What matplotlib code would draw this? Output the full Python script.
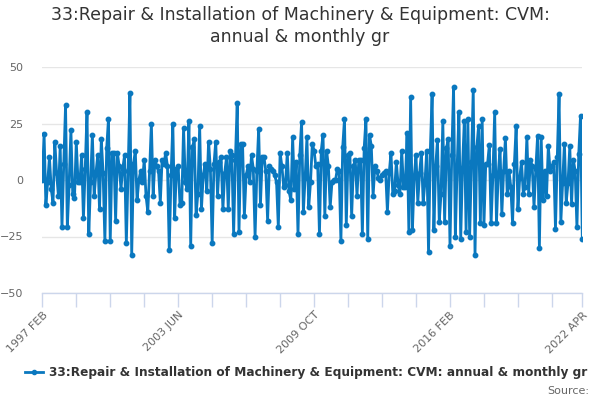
import pandas as pd
import matplotlib
matplotlib.use('Agg')
import matplotlib.pyplot as plt
from matplotlib.lines import Line2D

# annual & monthly growth (%), one list per stretch of years
growth_1997_2000 = [0, 20.4, -11, -1, 10, -4, -10, 17, 3, -7, 15, -21, 7, 33, -21, -2, 22, -6, -8, 17,
                    -1, -1, 11, -17, 5, 30, -24, -1, 20, -7, 3, 11, -13, 18, 3, -27, 14, 27, -27, 12, 12]
growth_2000_2004 = [-18, 12, 6, -4, 5, 11, -28, 4, 38.5, -33, 7, 13, -9, 0, 4, -1, 9, -7, -14, 4,
                    25, -7, 9, 6, 4, -10, 9, 7, 12, 6, -31, 2, 25, -17, 5, 6, -11, -10, 23, -1, -4, 26]
growth_2004_2007 = [-29, 14.5, 18, -15.6, -6, 24, -13, 2, 7, -5, 17, 5, -28, 7, 17, -7, 8, 10, -13, 3,
                    10, -13, 13, 11, -24, 9, 34, -23, 16, 16, -16, 2, 6, -1, 11, 5, -25, 4, 22.5, -11, 10, 10]
growth_2007_2011 = [4, -18, 6, 5, 4, 2, -1, -21, 12, 6, -3, -2, 12, -5, -9, 19, -4, 8, -24, 11,
                    25.5, -14, 1, 19, -12, -1, 16, 13, 6, 7, -24, 13, 20, -16, 13, 6, -12, -1, 0, 0, 5, 4]
growth_2011_2014 = [-27, 14.5, 27, -20, 11, 12, -16, 6, 9, -7, 9, 9, -24, 14, 27, -26, 20, 15, -7, 6,
                    4, 1, 0, 2, 3, 4, -14, 3, 12, -6, -5, 8, -2, -6, 13, -3, -3, 21, -23, 36.6, -22, 1.5, 11]
growth_2014_2018 = [-10, 3, 12, -10, -1, 13, -32, 13, 38, -22, 6, 17.5, -18.5, -6, 26, -18.5, 14, 18, -29, 11,
                    41, -25, 5.5, 30, -26, 5.5, 26, -23, 27, -25, 8, 40, -33, 14.5, 24, -19, 27, -20, 7, 7, 15.5]
growth_2018_2021 = [-19, 2, 30, -19, 3, 13.6, -15, 4, 18.5, -6, 4, -3, -19, 7, 23.7, -13, 1, 8, -6, -3,
                    19, -6, 9, 6, -12, 5, 19.5, -30, 19, -9, 4, -7, 15, 4, 6, 8, -21.5, 10, 38, -18.5, -1.5, 16]
growth_2021_2022 = [-10, -1.5, 15, -10.7, 9, 4, -21, 11.4, 28.4, -26]

values = (growth_1997_2000 + growth_2000_2004 + growth_2004_2007 + growth_2007_2011
          + growth_2011_2014 + growth_2014_2018 + growth_2018_2021 + growth_2021_2022)

months = pd.date_range('1997-02-01', periods=len(values), freq='MS')
month_labels = [d.strftime('%Y %b').upper() for d in months]

series_name = '33:Repair & Installation of Machinery & Equipment: CVM: annual & monthly gr'
title = '33:Repair & Installation of Machinery & Equipment: CVM:\nannual & monthly gr'

line_color = '#0a78bf'
axis_color = '#ccd6eb'
grid_color = '#e6e6e6'
label_color = '#666666'

fig = plt.figure(figsize=(6, 4), dpi=100)
ax = fig.add_axes([0.0705, 0.2675, 0.9, 0.565])

x = list(range(len(values)))
ax.plot(x, values, color=line_color, lw=2, marker='o', ms=3.2, mec=line_color, mfc=line_color, zorder=3)

ax.set_xlim(0, len(values) - 1)
ax.set_ylim(-50, 50)
ax.set_yticks([-50, -25, 0, 25, 50])
ax.grid(axis='y', color=grid_color, lw=1)
ax.set_axisbelow(True)

for side in ['top', 'right', 'left']:
    ax.spines[side].set_visible(False)
ax.spines['bottom'].set_color(axis_color)
ax.spines['bottom'].set_linewidth(1)

# tick marks every 19 months plus the final month; labels every 4th tick
tick_pos = list(range(0, len(values) - 1, 19)) + [len(values) - 1]
ax.set_xticks(tick_pos)
lab_pos = [0, 76, 152, 228, len(values) - 1]
ax.set_xticklabels([month_labels[p] if p in lab_pos else '' for p in tick_pos],
                   rotation=45, ha='right', rotation_mode='anchor')
ax.tick_params(axis='x', colors=axis_color, length=10, width=1, labelcolor=label_color,
               labelsize=8, pad=2)
ax.tick_params(axis='y', length=0, labelcolor=label_color, labelsize=8, pad=14)

fig.text(0.5, 0.935, title, ha='center', va='center', fontsize=12.5, color='#333333',
         linespacing=1.25)

handle = Line2D([], [], color=line_color, lw=2, marker='o', ms=3)
fig.legend([handle], [series_name], loc='center', bbox_to_anchor=(0.51, 0.068),
           frameon=False, handlelength=1.5, handletextpad=0.5,
           prop={'weight': 'bold', 'size': 8.7}, labelcolor='#333333')

fig.text(0.982, 0.022, 'Source:', ha='right', va='center', fontsize=8, color=label_color)

fig.savefig('out.png', dpi=100)
